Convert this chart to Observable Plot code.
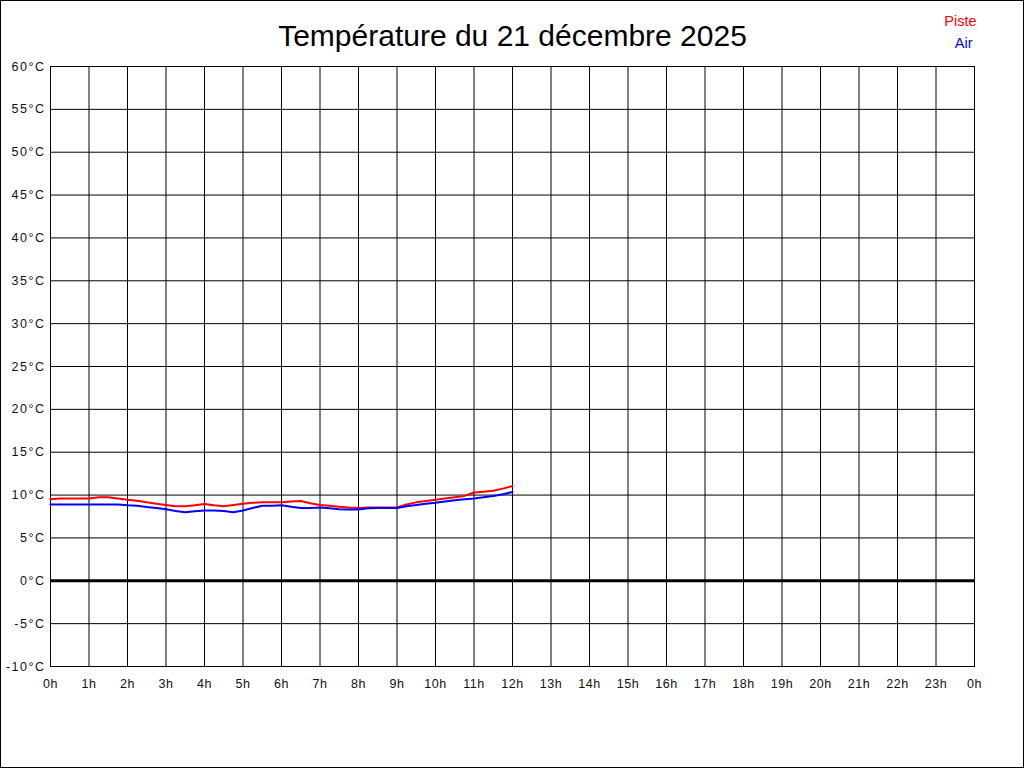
<!DOCTYPE html>
<html><head><meta charset="utf-8">
<script src="https://cdn.jsdelivr.net/npm/d3@7"></script>
<script src="https://cdn.jsdelivr.net/npm/@observablehq/plot@0.6"></script>
<style>
body{margin:0;background:#fff;}
#chart svg{display:block;outline:1px solid #000;outline-offset:-1px;background:#fff;}
#chart g[aria-label="y-axis tick label"] text{letter-spacing:1.5px;}
#chart g[aria-label="x-axis tick label"] text{letter-spacing:0.5px;}
</style></head>
<body><div id="chart"></div>
<script>
const title = "Température du 21 décembre 2025";
const seriesNames = ["Piste", "Air"];
const seriesColors = ["#ff0000", "#0000ff"];
const hours = [0,0.25,0.5,0.75,1,1.25,1.5,1.75,2,2.25,2.5,2.75,3,3.25,3.5,3.75,4,4.25,4.5,4.75,5,5.25,5.5,5.75,6,6.25,6.5,6.75,7,7.25,7.5,7.75,8,8.25,8.5,8.75,9,9.25,9.5,9.75,10,10.25,10.5,10.75,11,11.25,11.5,11.75,12];
const piste = [9.5,9.6,9.6,9.6,9.6,9.75,9.75,9.6,9.45,9.35,9.15,9.0,8.85,8.7,8.7,8.8,8.95,8.8,8.7,8.85,9.0,9.1,9.15,9.15,9.15,9.25,9.3,9.05,8.85,8.75,8.65,8.55,8.5,8.55,8.55,8.55,8.55,8.9,9.15,9.3,9.45,9.6,9.75,9.9,10.3,10.4,10.5,10.75,11.05];
const air = [8.9,8.9,8.9,8.9,8.9,8.9,8.9,8.9,8.8,8.75,8.6,8.5,8.35,8.15,8.0,8.1,8.2,8.2,8.15,8.0,8.2,8.5,8.75,8.75,8.8,8.65,8.48,8.5,8.55,8.45,8.35,8.32,8.32,8.45,8.48,8.48,8.48,8.7,8.85,9.0,9.1,9.25,9.4,9.5,9.6,9.75,9.9,10.1,10.35];
const xTicks = [0,1,2,3,4,5,6,7,8,9,10,11,12,13,14,15,16,17,18,19,20,21,22,23,24];
const yTicks = [-10,-5,0,5,10,15,20,25,30,35,40,45,50,55,60];

const rows = [];
hours.forEach((h,i)=>{ rows.push({h, t: piste[i], s: seriesNames[0]}); });
hours.forEach((h,i)=>{ rows.push({h, t: air[i], s: seriesNames[1]}); });

const chart = Plot.plot({
  width: 1024, height: 768,
  marginTop: 66, marginBottom: 102, marginLeft: 50, marginRight: 50,
  style: {fontFamily: "'Liberation Sans', Arial, sans-serif", fontSize: "12px", color: "#000", background: "#fff"},
  x: {domain: [0, 24]},
  y: {domain: [-10, 60]},
  color: {domain: seriesNames, range: seriesColors},
  marks: [
    Plot.gridX(xTicks, {stroke: "#000", strokeOpacity: 1, strokeWidth: 1}),
    Plot.gridY(yTicks, {stroke: "#000", strokeOpacity: 1, strokeWidth: 1}),
    Plot.frame({stroke: "#000", strokeWidth: 1}),
    Plot.ruleY([0], {stroke: "#000", strokeWidth: 3}),
    Plot.axisX(xTicks, {tickSize: 0, tickPadding: 13, tickFormat: d => (d % 24) + "h", label: null, fill: "#111", fontSize: 12.5}),
    Plot.axisY(yTicks, {tickSize: 0, tickPadding: 5, tickFormat: d => d + "°C", label: null, fill: "#111", fontSize: 12.5}),
    Plot.line(rows.filter(d => d.s === seriesNames[0]), {x: "h", y: "t", stroke: "s", strokeWidth: 2, curve: "linear"}),
    Plot.line(rows.filter(d => d.s === seriesNames[1]), {x: "h", y: "t", stroke: "s", strokeWidth: 2, curve: "linear"}),
    Plot.text([title], {frameAnchor: "top", lineAnchor: "middle", dy: -30, fontSize: 30, fill: "#000", text: d => d}),
    Plot.text([seriesNames[0]], {frameAnchor: "top-right", lineAnchor: "middle", dx: 2, dy: -45, textAnchor: "end", fontSize: 14.5, fill: seriesColors[0], text: d => d}),
    Plot.text([seriesNames[1]], {frameAnchor: "top-right", lineAnchor: "middle", dx: -2, dy: -23, textAnchor: "end", fontSize: 14.5, fill: seriesColors[1], text: d => d})
  ]
});
document.getElementById("chart").appendChild(chart);
</script></body></html>
